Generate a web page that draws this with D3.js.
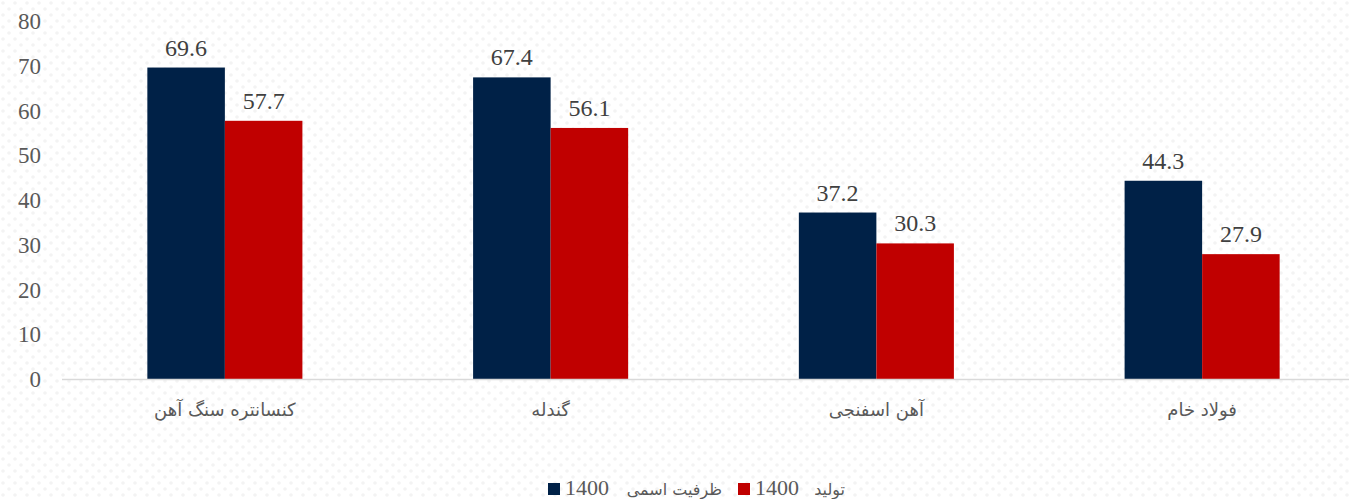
<!DOCTYPE html>
<html><head><meta charset="utf-8">
<script src="https://cdn.jsdelivr.net/npm/d3@7"></script>
<style>html,body{margin:0;padding:0;background:#fff;}svg{display:block;}</style>
</head><body>
<script>
const categories = ["کنسانتره سنگ آهن", "گندله", "آهن اسفنجی", "فولاد خام"];
const seriesNames = ["ظرفیت اسمی", "تولید"];
const seriesYears = ["1400", "1400"];
const capacity = [69.6, 67.4, 37.2, 44.3];
const production = [57.7, 56.1, 30.3, 27.9];
const yTicks = [0, 10, 20, 30, 40, 50, 60, 70, 80];
const colors = ["#002147", "#C00000"];

const W = 1349, H = 499;
const svg = d3.select("body").append("svg").attr("width", W).attr("height", H);

const defs = svg.append("defs");
const pat = defs.append("pattern").attr("id", "dots").attr("width", 12).attr("height", 12).attr("patternUnits", "userSpaceOnUse");
pat.append("circle").attr("cx", 3).attr("cy", 3).attr("r", 1.8).attr("fill", "#f3f3f3");
pat.append("circle").attr("cx", 9).attr("cy", 9).attr("r", 1.8).attr("fill", "#f3f3f3");
svg.append("rect").attr("width", W).attr("height", H).attr("fill", "url(#dots)");

const x = d3.scaleBand().domain(categories).range([62, 1365]).paddingInner(0.524).paddingOuter(0.262);
const xs = d3.scaleBand().domain([0, 1]).range([0, x.bandwidth()]);
const y = d3.scaleLinear().domain([0, 80]).range([379, 21]);

const serif = "'Liberation Serif', 'DejaVu Sans', serif";
const arab = "'DejaVu Sans', sans-serif";

// y tick labels
svg.append("g").selectAll("text").data(yTicks).join("text")
  .attr("x", 41).attr("y", d => y(d)).attr("dy", "0.35em")
  .attr("text-anchor", "end").attr("font-family", serif).attr("font-size", 23)
  .attr("fill", "#595959").text(d => d);

const rows = categories.map((c, i) => ({c, vals: [capacity[i], production[i]]}));

const g = svg.append("g").selectAll("g").data(rows).join("g")
  .attr("transform", d => `translate(${x(d.c)},0)`);

g.selectAll("rect").data(d => d.vals.map((v, k) => ({v, k}))).join("rect")
  .attr("x", d => xs(d.k)).attr("width", xs.bandwidth())
  .attr("y", d => y(d.v)).attr("height", d => y(0) - y(d.v))
  .attr("fill", d => colors[d.k]);

g.selectAll("text.val").data(d => d.vals.map((v, k) => ({v, k}))).join("text")
  .attr("class", "val")
  .attr("x", d => xs(d.k) + xs.bandwidth() / 2).attr("y", d => y(d.v) - 12)
  .attr("text-anchor", "middle").attr("font-family", serif).attr("font-size", 24)
  .attr("fill", "#404040").text(d => d.v.toFixed(1));

// x axis line
svg.append("line").attr("x1", 62).attr("x2", 1365).attr("y1", y(0) + 0.5).attr("y2", y(0) + 0.5)
  .attr("stroke", "#d9d9d9").attr("stroke-width", 1.5);

// category labels
svg.append("g").selectAll("text").data(categories).join("text")
  .attr("x", d => x(d) + x.bandwidth() / 2).attr("y", 416)
  .attr("text-anchor", "middle").attr("font-family", arab).attr("font-size", 18)
  .attr("fill", "#595959").text(d => d);

// legend
const legX = [548, 738];
const legArabEnd = [174, 107];
const items = svg.append("g").selectAll("g").data(seriesNames).join("g")
  .attr("transform", (d, i) => `translate(${legX[i]},495)`);
items.append("rect").attr("width", 12).attr("height", 12).attr("y", -12).attr("fill", (d, i) => colors[i]);
items.append("text").attr("x", 17).attr("y", 0).attr("font-family", serif).attr("font-size", 22)
  .attr("fill", "#595959").text((d, i) => seriesYears[i]);
items.append("text").attr("x", (d, i) => legArabEnd[i]).attr("y", 0).attr("text-anchor", "end")
  .attr("font-family", arab).attr("font-size", 16)
  .attr("fill", "#595959").text(d => d);
</script>
</body></html>
